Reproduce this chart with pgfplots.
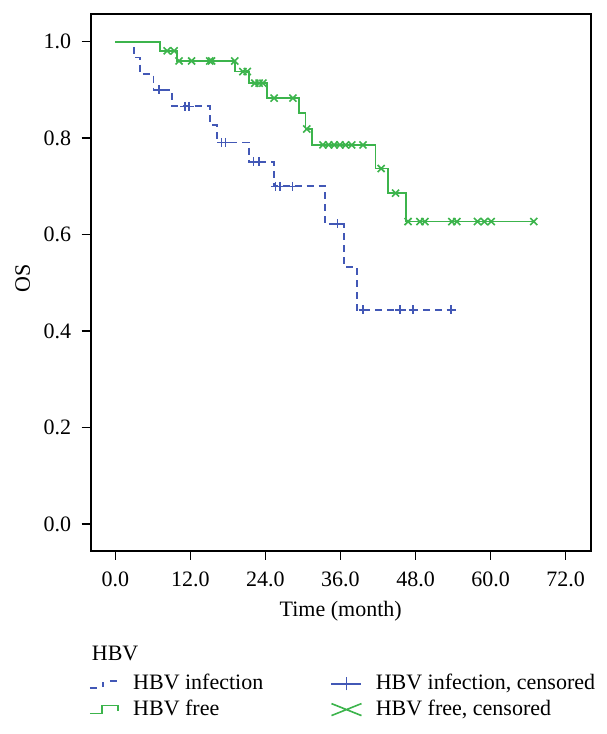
\documentclass[border=0pt]{standalone}
\usepackage{fontspec}
\setmainfont{Liberation Serif}
\usepackage{pgfplots}
\pgfplotsset{compat=1.18}
\definecolor{kmblue}{RGB}{66,88,182}
\definecolor{kmgreen}{RGB}{60,180,76}
\begin{document}
\fontsize{22bp}{26bp}\selectfont
\begin{tikzpicture}
\useasboundingbox (-90.7bp,-183.3bp) rectangle (516.3bp,550.7bp);
\begin{axis}[
  scale only axis, width=500bp, height=536.7bp,
  xmin=-3.93, xmax=76.0, ymin=-0.0554, ymax=1.0574,
  xtick={0,12,24,36,48,60,72}, ytick={0,0.2,0.4,0.6,0.8,1.0},
  /pgf/number format/assume math mode=true,
  /pgf/number format/.cd, fixed, fixed zerofill, precision=1, /pgfplots/.cd,
  tick pos=left, tick align=outside, major tick length=9bp,
  tick style={black, line width=1.5bp},
  axis line style={black, line width=1.7bp},
  tick label style={font=\fontsize{22bp}{26bp}\selectfont},
  xticklabel style={yshift=-5bp},
  yticklabel style={xshift=-3bp},
  label style={font=\fontsize{22.5bp}{26bp}\selectfont},
  xlabel={Time (month)}, ylabel={OS},
  every axis x label/.style={at={(axis description cs:0.5,0)}, anchor=center, yshift=-60.5bp},
  every axis y label/.style={at={(axis description cs:0,0.508)}, rotate=90, anchor=center, yshift=68bp},
  clip=false,
  legend columns=2,
  legend style={at={(axis description cs:0,0)}, anchor=north west, xshift=-2bp, yshift=-122bp,
    draw=none, fill=none, font=\fontsize{22bp}{26bp}\selectfont, inner sep=0pt, row sep=4bp,
    nodes={inner sep=1.5bp}},
  legend cell align=left,
]
\addplot[kmblue, line width=1.8bp, dash pattern=on 7bp off 5bp, const plot,
  legend image code/.code={\draw[kmblue, line width=1.8bp] (0bp,-4bp)--(8bp,-4bp) (13bp,-3bp)--(13bp,2bp) (20bp,3bp)--(28bp,3bp)--(28bp,0bp);}]
  coordinates {(0,1) (3.0,0.967) (4.0,0.933) (6.1,0.900) (9.1,0.866) (15.1,0.828) (16.2,0.791) (21.4,0.751) (25.4,0.700) (33.5,0.622) (36.5,0.533) (38.6,0.444) (53.7,0.444)};
\addlegendentry{\makebox[209bp][l]{\hspace{13bp}HBV infection}}
\addplot[only marks, kmblue, mark=+, mark size=4.5bp, mark options={line width=1.6bp},
  legend image code/.code={\draw[kmblue, line width=1.6bp] (0bp,0bp)--(30bp,0bp) (15bp,-6.5bp)--(15bp,6.5bp);}]
  coordinates {(7.0,0.900) (11.1,0.866) (11.8,0.866) (17.0,0.791) (17.6,0.791) (22.1,0.751) (23.0,0.751) (25.6,0.700) (26.3,0.700) (28.3,0.700) (35.5,0.622) (39.6,0.444) (45.5,0.444) (47.6,0.444) (53.7,0.444)};
\addlegendentry{\hspace{12bp}HBV infection, censored}
\addplot[kmgreen, line width=1.8bp, const plot,
  legend image code/.code={\draw[kmgreen, line width=1.8bp] (0bp,-4bp)--(12bp,-4bp)--(12bp,4bp)--(28bp,4bp)--(28bp,-1bp);}]
  coordinates {(0,1) (7.1,0.981) (9.9,0.960) (19.2,0.938) (21.4,0.914) (24.3,0.883) (29.4,0.852) (30.4,0.819) (31.4,0.786) (41.6,0.737) (43.6,0.686) (46.5,0.627) (66.9,0.627)};
\addlegendentry{\hspace{13bp}HBV free}
\addplot[only marks, kmgreen, mark=x, mark size=5bp, mark options={line width=1.6bp},
  legend image code/.code={\draw[kmgreen, line width=1.6bp] (0bp,-6bp)--(30bp,6bp) (0bp,6bp)--(30bp,-6bp);}]
  coordinates {(8.3,0.981) (9.4,0.981) (10.2,0.960) (12.2,0.960) (15.1,0.960) (15.4,0.960) (19.1,0.960) (20.4,0.938) (21.1,0.938) (22.3,0.914) (23.0,0.914) (23.6,0.914) (25.4,0.883) (28.4,0.883) (30.6,0.819) (33.2,0.786) (34.1,0.786) (35.0,0.786) (35.9,0.786) (36.8,0.786) (37.8,0.786) (39.6,0.786) (42.5,0.737) (44.8,0.686) (46.8,0.627) (48.7,0.627) (49.5,0.627) (53.8,0.627) (54.6,0.627) (57.9,0.627) (59.0,0.627) (60.1,0.627) (66.9,0.627)};
\addlegendentry{\hspace{12bp}HBV free, censored}
\node[anchor=west, inner sep=0pt] at (axis description cs:0,0) [xshift=1bp, yshift=-102.3bp] {HBV};
\end{axis}
\end{tikzpicture}
\end{document}
